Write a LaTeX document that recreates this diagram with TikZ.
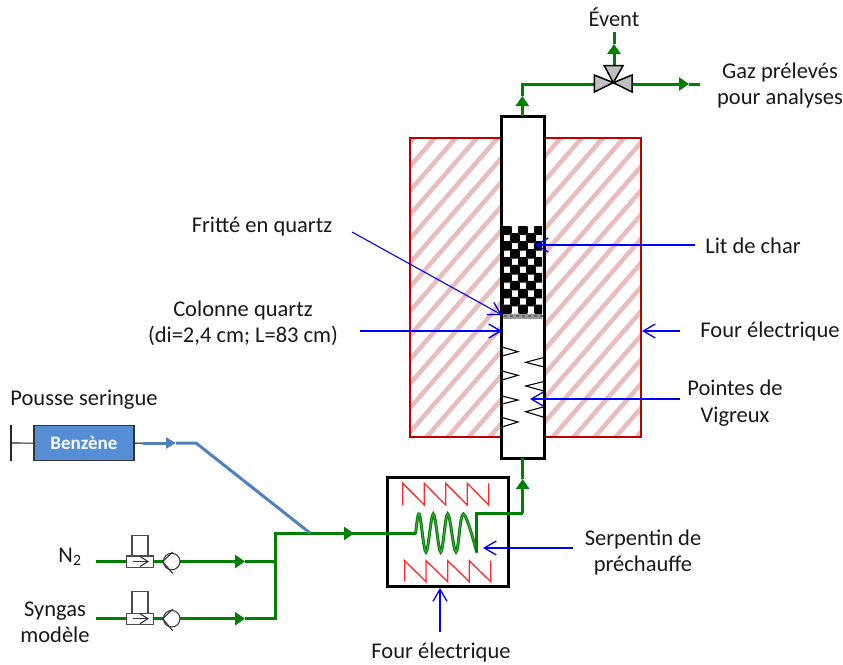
\documentclass[tikz,border=0pt]{standalone}
\usepackage{fontspec}
\setmainfont{Carlito}
\usetikzlibrary{arrows.meta}
\definecolor{pipegreen}{HTML}{008000}
\definecolor{hatchpink}{HTML}{E8BDBD}
\definecolor{ovenred}{HTML}{C00000}
\definecolor{zigred}{HTML}{FF2A2A}
\definecolor{bluepipe}{HTML}{4F81BD}
\definecolor{syringe}{HTML}{558ED5}
\definecolor{valvegray}{HTML}{BFBFBF}
\definecolor{callblue}{HTML}{0000FF}
\tikzset{
  lbl/.style={font=\fontsize{22.5}{26.3}\selectfont,inner sep=0pt,align=center,text=black!90},
  gline/.style={draw=pipegreen,line width=3pt,line cap=butt,line join=miter},
  gtip/.style={gline,-{Triangle[length=10pt,width=13pt,fill=pipegreen]}},
  bline/.style={draw=bluepipe,line width=3pt,line join=round},
  btip/.style={bline,-{Triangle[length=10pt,width=11pt,fill=bluepipe]}},
  call/.style={draw=callblue,line width=1.1pt,-{Straight Barb[length=12pt,width=14pt,line width=1.3pt]}},
  wall/.style={draw=black,line width=3pt},
  spike/.style={draw=black,line width=1.1pt,line join=miter},
  zig/.style={draw=zigred,line width=1.3pt,line join=miter},
  valvebox/.style={draw=black!70,line width=1.3pt,fill=white},
  vthin/.style={draw=black!80,line width=1.1pt},
  tri/.style={draw=black,line width=1.5pt,fill=valvegray,line join=miter},
}
\begin{document}
\begin{tikzpicture}[x=1pt,y=-1pt]
\useasboundingbox (0,0) rectangle (843,664);
% furnace hatching
\begin{scope}
\clip (410,138) rectangle (641,437);
\foreach \k in {-2,...,23} {
  \draw[hatchpink,line width=4.6pt] ({433+21*\k-260},{140+299}) -- ({433+21*\k+60},{140-69});
}
\end{scope}
\draw[draw=ovenred,line width=2.8pt] (410,138) rectangle (641,437);
% column
\fill[white] (501,116) rectangle (544,458);
% char bed
\begin{scope}
\clip (503,226) rectangle (542,313.5);
\foreach \r in {0,...,10} {
  \foreach \c in {-1,...,2} {
    \pgfmathsetmacro{\xx}{503+16*\c+mod(\r,2)*8-0.8}
    \pgfmathsetmacro{\yy}{226+7.95*\r-0.8}
    \fill[black,rounded corners=2pt] (\xx,\yy) rectangle ({\xx+9.6},{\yy+9.6});
  }
}
\end{scope}
% frit
\fill[black!40] (503,313.5) rectangle (542,319);
\foreach \c in {0,...,6} { \fill[black!60] ({504+6*\c},315) rectangle ({507+6*\c},317); }
% spikes
\draw[spike] (502,347) -- (518,351.7) -- (502,356);
\draw[spike] (502,371) -- (518,375.3) -- (502,380);
\draw[spike] (502,396) -- (518,400) -- (502,404);
\draw[spike] (502,417.5) -- (518,422) -- (502,427);
\draw[spike] (543,357.7) -- (525.7,362.3) -- (543,366.7);
\draw[spike] (543,381.7) -- (525.7,386) -- (543,390.7);
\draw[spike] (543,407) -- (525.7,411.7) -- (543,417);
\node[draw=black,line width=3pt,minimum width=43pt,minimum height=342pt,inner sep=0pt,anchor=north west,outer sep=0pt] (col) at (501,116) {};
% heater
\node[draw=black,line width=3pt,minimum width=121pt,minimum height=109pt,inner sep=0pt,anchor=north west,outer sep=0pt] (heat) at (387,477) {};
\draw[zig] (402.7,505) -- (402.7,483.3) -- (424.3,505) -- (424.3,483.3) -- (445.7,505) -- (445.7,483.3) -- (467.3,505) -- (467.3,483.3) -- (488.7,505) -- (488.7,483.3);
\draw[zig] (404.7,581.7) -- (404.7,560.7) -- (426,581.7) -- (426,560.7) -- (447.7,581.7) -- (447.7,560.7) -- (469.3,581.7) -- (469.3,560.7) -- (490.7,581.7) -- (490.7,560.7);
% coil
\coordinate (coilin) at (415.7,533.5);
\coordinate (coilout) at (476.7,513);
\draw[draw=pipegreen,line width=3pt,line cap=round] plot[smooth,tension=0.6] coordinates {(coilin) (419.3,514) (426,552) (433.3,514) (440.7,552) (447.7,514) (456,552) (463.3,514) (476.7,552)};
\draw[draw=pipegreen!70!white,line width=0.9pt,line cap=round] plot[smooth,tension=0.6] coordinates {(coilin) (419.3,514) (426,552) (433.3,514) (440.7,552) (447.7,514) (456,552) (463.3,514) (476.7,552)};
\coordinate (coilend) at (476.7,552);
% green pipes
\coordinate (joint) at (275,533.5);
\coordinate (jtip) at (354,533.5);
\coordinate (n2a) at (96,561.5);
\coordinate (n2tip) at (245,561.5);
\coordinate (n2b) at (275,561.5);
\coordinate (sya) at (96,618.7);
\coordinate (sytip) at (245,618.7);
\coordinate (syb) at (275,618.7);
\coordinate (upt) at (522.7,513);
\coordinate (uptip) at (522.7,479);
\coordinate (colbot) at (522.7,458);
\coordinate (coltop) at (522.3,116);
\coordinate (toptip) at (522.3,96);
\coordinate (topc) at (522.3,84);
\coordinate (vl) at (594.5,84);
\coordinate (vr) at (632,84);
\coordinate (rtip) at (689,84);
\coordinate (rend) at (700,84);
\coordinate (vt) at (614,65);
\coordinate (uptip2) at (614,44);
\coordinate (upend) at (614,32);
\draw[gtip] (n2a) -- (n2tip);
\draw[gline] (n2tip) -- (n2b);
\draw[gtip] (sya) -- (sytip);
\draw[gline] (sytip) -- (syb) -- (joint) -- (jtip);
\draw[gtip] (joint) -- (jtip);
\draw[gline] (jtip) -- (coilin);
\draw[gline] (coilend) -- (coilout) -- (upt);
\draw[gtip] (upt) -- (uptip);
\draw[gline] (uptip) -- (colbot);
\draw[gtip] (coltop) -- (toptip);
\draw[gline] (toptip) -- (topc) -- (vl);
\draw[gtip] (vr) -- (rtip);
\draw[gline] (rtip) -- (rend);
\draw[gtip] (vt) -- (uptip2);
\draw[gline] (uptip2) -- (upend);
% three-way valve
\draw[tri] (594.3,75) -- (594.3,92) -- (613.3,82.7) -- cycle;
\draw[tri] (632,75) -- (632,92) -- (613.3,82.7) -- cycle;
\draw[tri] (604.3,65.7) -- (623,65.7) -- (613.3,82.7) -- cycle;
% syringe
\node[draw=black!80,line width=1.2pt,fill=syringe,minimum width=100pt,minimum height=35pt,inner sep=0pt,anchor=north west,text=white,font=\fontsize{19}{21}\selectfont\bfseries] (benz) at (33.3,425) {Benzène};
\coordinate (pla) at (11,425);
\coordinate (plb) at (11,461);
\coordinate (plc) at (11,443);
\draw[black!85,line width=1.1pt] (pla) -- (plb);
\draw[black!85,line width=1.1pt] (plc) -- (benz.west);
\coordinate (b1) at (143,443);
\coordinate (btp) at (176,443);
\coordinate (b2) at (196,443);
\coordinate (b3) at (310,533);
\draw[black,line width=1.1pt] (benz.east) -- (153,443);
\draw[btip] (b1) -- (btp);
\draw[bline] (btp) -- (b2) -- (b3);
% valves on N2 / syngas
\foreach \y/\t in {561.5/535.7,618.7/591.3}{
  \draw[valvebox] (132,\t) rectangle (148,{\y-5.5});
  \draw[valvebox] (126.7,{\y-5.5}) rectangle (153.3,{\y+6});
  \draw[vthin] (133,\y) -- (148,\y);
  \draw[vthin] (140,{\y-5}) -- (148,\y) -- (140,{\y+5});
  \draw[vthin,line width=1pt,fill=white] (171.7,\y) circle[radius=8.3];
  \draw[vthin] (172.7,{\y-9.5}) -- (162.7,\y) -- (172.7,{\y+12});
}
% labels
\node[lbl] (event) at (614,17.5) {Évent};
\node[lbl] (gaz) at (780,85.5) {Gaz prélevés\\pour analyses};
\node[lbl] (char) at (753,245.5) {Lit de char};
\node[lbl] (four1) at (770,331) {Four électrique};
\node[lbl] (vig) at (735,403) {Pointes de\\Vigreux};
\node[lbl] (frit) at (262,226.5) {Fritté en quartz};
\node[lbl] (colq) at (243,323) {Colonne quartz\\(di=2,4 cm; L=83 cm)};
\node[lbl] (pousse) at (84,400) {Pousse seringue};
\node[lbl] (n2) at (70,557) {N\textsubscript{2}};
\node[lbl] (syn) at (55,622.5) {Syngas\\modèle};
\node[lbl] (serp) at (643,552.5) {Serpentin de\\préchauffe};
\node[lbl] (four2) at (441,652.5) {Four électrique};
% callouts
\coordinate (c1a) at (695,245); \coordinate (c1b) at (535,245);
\coordinate (c2a) at (352,232); \coordinate (c2b) at (502,315);
\coordinate (c3a) at (360,331); \coordinate (c3b) at (502,331);
\coordinate (c4a) at (680,331); \coordinate (c4b) at (642,331);
\coordinate (c5a) at (680,399); \coordinate (c5b) at (530,399);
\coordinate (c6a) at (573,548); \coordinate (c6b) at (483,548);
\coordinate (c7a) at (440,632); \coordinate (c7b) at (440,588);
\draw[call] (c1a) -- (c1b);
\draw[call] (c2a) -- (c2b);
\draw[call] (c3a) -- (c3b);
\draw[call] (c4a) -- (c4b);
\draw[call] (c5a) -- (c5b);
\draw[call] (c6a) -- (c6b);
\draw[call] (c7a) -- (c7b);
\end{tikzpicture}
\end{document}
